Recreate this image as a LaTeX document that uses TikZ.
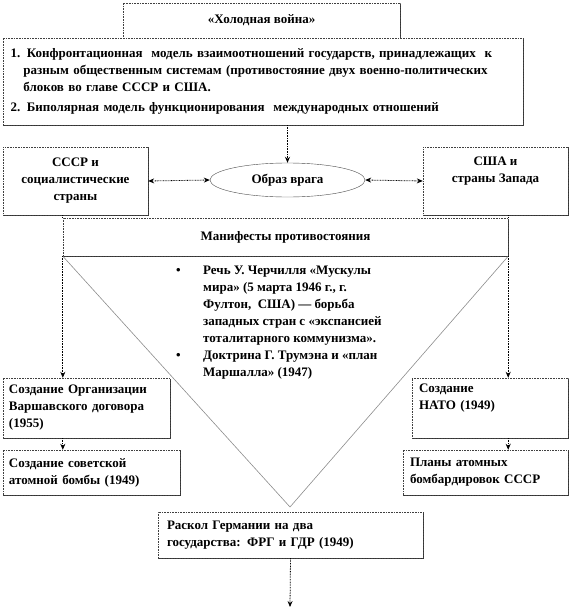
\documentclass[tikz,border=0pt]{standalone}
\usepackage{fontspec}
\setmainfont{Liberation Serif}
\usepackage{tikz}
\usetikzlibrary{shapes.geometric,arrows.meta,positioning,calc,shadows}

\begin{document}
\begin{tikzpicture}[
  x=1pt, y=-1pt,
  font=\fontsize{13}{17}\selectfont\bfseries,
  box/.style={rectangle, draw=black!75, dash pattern=on 0.8pt off 0.8pt, fill=white, inner sep=0pt,
              drop shadow={shadow xshift=1.2pt, shadow yshift=-1.2pt, opacity=1, fill=black!80}},
  oval/.style={ellipse, draw=black!70, fill=white, inner sep=0pt,
               minimum width=155pt, minimum height=34pt},
  arr/.style={-{Stealth[length=6pt,width=5pt]}, dash pattern=on 0.8pt off 0.8pt, line width=0.8pt, black},
  dbl/.style={{Stealth[length=6pt,width=5pt]}-{Stealth[length=6pt,width=5pt]},
              dash pattern=on 0.8pt off 0.8pt, line width=0.8pt, black},
  tri/.style={draw=gray!90, line width=0.6pt},
]
  \useasboundingbox (0,0) rectangle (570,610);

  %% Top: title and the two models
  \node[box, minimum width=277pt, minimum height=35pt] (title) at (261.5,20.5) {«Холодная война»};
  \node[box, minimum width=520pt, minimum height=87pt, text width=505pt, align=left] (models) at (263,81.5)
       {1. Конфронтационная \ модель взаимоотношений государств, принадлежащих \ к\\
        \hspace*{13pt}разным общественным системам (противостояние двух военно-политических\\
        \hspace*{13pt}блоков во главе СССР и США.\\[3pt]
        2. Биполярная модель функционирования \ международных отношений};

  %% Middle row: two blocs and the enemy image
  \node[box, minimum width=145pt, minimum height=68pt, align=center] (ussr) at (75.5,181)
       {СССР и\\социалистические\\страны};
  \node[oval] (enemy) at (287.5,180) {Образ врага};
  \node[box, minimum width=145pt, minimum height=68pt, align=center] (usa) at (495.5,181)
       {США и\\страны Запада\\\strut};

  %% Manifestos and the triangle below them
  \node[box, minimum width=445pt, minimum height=38pt] (manif) at (285.5,237) {Манифесты противостояния};
  \coordinate (apex) at (290,507);
  \draw[tri] (manif.south west) -- (apex) -- (manif.south east);
  \node[anchor=north west, inner sep=0pt] (speech) at (176,262)
       {\begin{tabular}{@{}p{27pt}@{}l@{}}
          \textbullet & Речь У. Черчилля «Мускулы\\
                      & мира» (5 марта 1946 г., г.\\
                      & Фултон, \ США) — борьба\\
                      & западных стран с «экспансией\\
                      & тоталитарного коммунизма».\\
          \textbullet & Доктрина Г. Трумэна и «план\\
                      & Маршалла» (1947)
        \end{tabular}};

  %% Lower boxes
  \node[box, minimum width=167pt, minimum height=60pt, text width=155pt, align=left] (warsaw) at (86.5,408)
       {Создание Организации\\Варшавского договора\\(1955)};
  \node[box, minimum width=177pt, minimum height=45pt, text width=165pt, align=left] (bomb) at (91.5,472.5)
       {Создание советской\\атомной бомбы (1949)};
  \node[box, minimum width=156pt, minimum height=60pt, text width=142pt, align=left] (nato) at (490,408)
       {Создание\\НАТО (1949)\\\strut};
  \node[box, minimum width=165pt, minimum height=45pt, text width=151pt, align=left] (plans) at (485.5,472.5)
       {Планы атомных\\бомбардировок СССР};
  \node[box, minimum width=265pt, minimum height=46pt, text width=247pt, align=left] (split) at (290.5,535)
       {Раскол Германии на два\\государства: ФРГ и ГДР (1949)};
  \coordinate (end) at (290,607);

  \draw[arr] (models.south -| enemy.north) -- (enemy.north);
  \draw[dbl] (ussr.east) -- (enemy.west);
  \draw[dbl] (enemy.east) -- (usa.west);
  \draw[dash pattern=on 0.8pt off 0.8pt, line width=0.8pt] (ussr.south -| manif.west) -- (manif.north west);
  \draw[dash pattern=on 0.8pt off 0.8pt, line width=0.8pt] (usa.south -| manif.east) -- (manif.north east);
  \draw[arr] (manif.south west) -- (manif.south west |- warsaw.north);
  \draw[arr] (manif.south east) -- (manif.south east |- nato.north);
  \draw[arr] (warsaw.south -| manif.west) -- (bomb.north -| manif.west);
  \draw[arr] (nato.south -| manif.east) -- (plans.north -| manif.east);
  \draw[arr] (split.south) -- (end);
\end{tikzpicture}
\end{document}
